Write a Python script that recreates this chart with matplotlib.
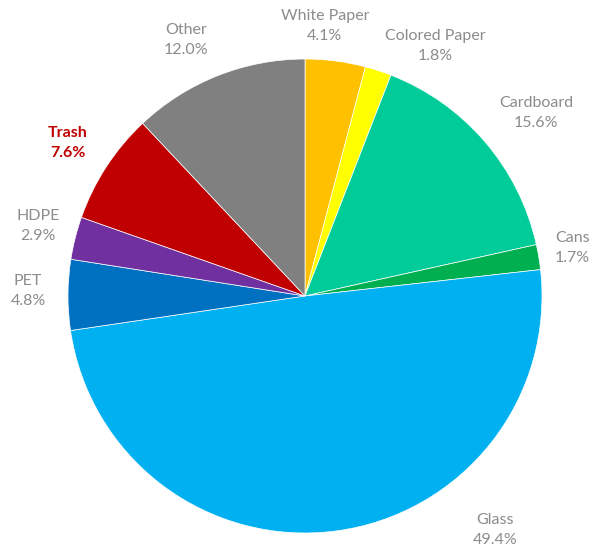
import matplotlib
matplotlib.use("Agg")
import matplotlib.pyplot as plt

categories = ["White Paper", "Colored Paper", "Cardboard", "Cans", "Glass",
              "PET", "HDPE", "Trash", "Other"]
values = [4.1, 1.8, 15.6, 1.7, 49.4, 4.8, 2.9, 7.6, 12.0]

colors = ["#FFC000", "#FFFF00", "#00CC99", "#00B050", "#00B0F0",
          "#0070C0", "#7030A0", "#C00000", "#808080"]

# label anchor positions (data units, pie radius = 1)
label_pos = {
    "White Paper": (0.084, 1.139),
    "Colored Paper": (0.549, 1.055),
    "Cardboard": (0.975, 0.772),
    "Cans": (1.127, 0.203),
    "Glass": (0.802, -0.987),
    "PET": (-1.169, 0.021),
    "HDPE": (-1.127, 0.295),
    "Trash": (-1.0, 0.646),
    "Other": (-0.502, 1.080),
}

plt.rcParams['font.family'] = ['Lato', 'DejaVu Sans']

W, H = 592, 547
fig = plt.figure(figsize=(W / 100, H / 100), dpi=100)
ax = fig.add_axes([0, 0, 1, 1])
cx, cy, R = 305, 296, 237

ax.pie(values, colors=colors, startangle=90, counterclock=False, radius=1,
       wedgeprops=dict(edgecolor='white', linewidth=0.5))

ax.set_xlim(-cx / R, (W - cx) / R)
ax.set_ylim(-(H - cy) / R, cy / R)
ax.set_aspect('equal')
ax.axis('off')

for cat, v in zip(categories, values):
    x, y = label_pos[cat]
    if cat == "Trash":
        ax.text(x, y, f"{cat}\n{v:.1f}%", ha='center', va='center', fontsize=11.5,
                color='#C00000', fontweight='bold', linespacing=1.55)
    else:
        ax.text(x, y, f"{cat}\n{v:.1f}%", ha='center', va='center', fontsize=11.5,
                color='#8C8C8C', linespacing=1.55)

fig.savefig("out.png", dpi=100)
